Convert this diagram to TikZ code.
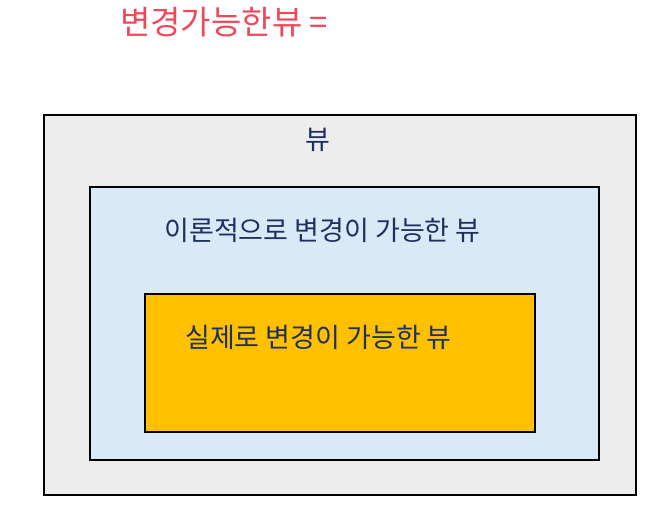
\documentclass[tikz,border=0pt]{standalone}
\usepackage{fontspec}
\newfontfamily\kr{Noto Sans CJK KR}
\definecolor{outerfill}{HTML}{EDEDED}
\definecolor{midfill}{HTML}{DAE9F6}
\definecolor{innerfill}{HTML}{FFC000}
\definecolor{navy}{HTML}{1F3060}
\definecolor{pen}{HTML}{F04858}
\tikzset{
  box/.style={draw=black, line width=1.6pt, inner sep=0pt},
  label/.style={text=navy, font=\kr\fontsize{27}{31}\selectfont, inner sep=0pt},
  hand/.style={text=pen, font=\kr\fontsize{33}{37}\selectfont, inner sep=0pt}
}
\begin{document}
\begin{tikzpicture}[x=1pt,y=-1pt]
\useasboundingbox (0,0) rectangle (668,526);
\filldraw[box, fill=outerfill] (44,115) rectangle (636,495);
\filldraw[box, fill=midfill] (90,187) rectangle (599,460);
\filldraw[box, fill=innerfill] (145,294) rectangle (535,432);
\node[label] (outer) at (318,140) {뷰};
\node[label] (mid) at (322.5,230) {이론적으로 변경이 가능한 뷰};
\node[label] (inner) at (318.5,337) {실제로 변경이 가능한 뷰};
\node[hand, anchor=west] (note) at (120,22) {변경가능한뷰 =};
\end{tikzpicture}
\end{document}
